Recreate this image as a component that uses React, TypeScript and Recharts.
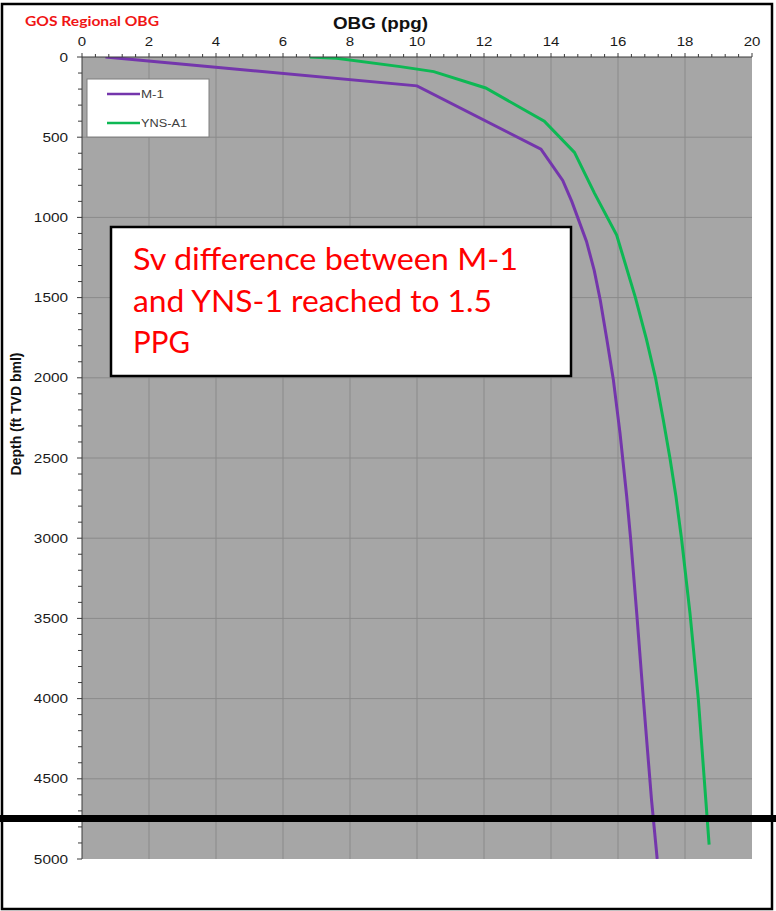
import React from 'react';
import { LineChart, Line, XAxis, YAxis, CartesianGrid, ReferenceLine } from 'recharts';

// ---- data ----
const m1Depth = [0, 180, 575, 770, 900, 1150, 1330, 1515, 1765, 2010, 2345, 2740, 3010, 3470, 4010, 4630, 5000];
const m1Obg = [0.7, 10.0, 13.7, 14.35, 14.62, 15.06, 15.29, 15.47, 15.67, 15.86, 16.06, 16.26, 16.38, 16.56, 16.76, 17.0, 17.17];

const ynsDepth = [0, 8, 60, 91, 193, 400, 595, 850, 1110, 1500, 1760, 2000, 2260, 2500, 2740, 3010, 3470, 4010, 4630, 4910];
const ynsObg = [6.8, 7.6, 9.5, 10.5, 12.05, 13.8, 14.7, 15.3, 15.96, 16.52, 16.85, 17.12, 17.35, 17.55, 17.73, 17.9, 18.15, 18.4, 18.62, 18.72];

const seriesNames = ['M-1', 'YNS-A1'];
const seriesColors = ['#7436ac', '#0db854'];

const xDomain = [0, 20];
const yDomain = [0, 5000];
const xTicks = Array.from({ length: 51 }, (_, i) => Math.round(i * 4) / 10);
const yTicks = Array.from({ length: 51 }, (_, i) => i * 100);
const xGrid = [2, 4, 6, 8, 10, 12, 14, 16, 18];
const yGrid = [500, 1000, 1500, 2000, 2500, 3000, 3500, 4000, 4500];

const chartTitle = 'GOS Regional OBG';
const xTitle = 'OBG (ppg)';
const yTitle = 'Depth (ft TVD bml)';
const noteLines = ['Sv difference between M-1', 'and YNS-1 reached to 1.5', 'PPG'];

const m1Data = m1Depth.map((d, i) => ({ depth: d, obg: m1Obg[i] }));
const ynsData = ynsDepth.map((d, i) => ({ depth: d, obg: ynsObg[i] }));

const TICK_FONT = '"Liberation Sans", Arial, sans-serif';

const XTick = (props: any) => {
  const { x, y, payload } = props;
  const v = payload.value as number;
  const major = Math.abs(v / 2 - Math.round(v / 2)) < 1e-6;
  return (
    <g>
      <line x1={x} x2={x} y1={y} y2={y - (major ? 4 : 3)} stroke="#3a3a3a" strokeWidth={1} />
      {major && (
        <text
          x={0}
          y={0}
          transform={`translate(${x},${y - 11}) scale(1.25,1)`}
          textAnchor="middle"
          fontSize={12}
          fontFamily={TICK_FONT}
          fill="#1a1a1a"
        >
          {Math.round(v)}
        </text>
      )}
    </g>
  );
};

const YTick = (props: any) => {
  const { x, y, payload } = props;
  const v = payload.value as number;
  const major = v % 500 === 0;
  return (
    <g>
      <line x1={x} x2={x - (major ? 5 : 4)} y1={y} y2={y} stroke="#3a3a3a" strokeWidth={1} />
      {major && (
        <text
          x={0}
          y={0}
          transform={`translate(${x - 14},${y + 4.5}) scale(1.28,1)`}
          textAnchor="end"
          fontSize={12}
          fontFamily={TICK_FONT}
          fill="#1a1a1a"
        >
          {v}
        </text>
      )}
    </g>
  );
};

export default function App() {
  return (
    <div style={{ position: 'absolute', left: 0, top: 0, width: 776, height: 911, background: '#ffffff' }}>
      <LineChart width={776} height={911} margin={{ top: 37, right: 24, bottom: 52, left: 22 }}>
        <CartesianGrid horizontal={false} vertical={false} fill="#a6a6a6" fillOpacity={1} stroke="none" />
        {xGrid.map((g) => (
          <ReferenceLine key={'gx' + g} x={g} stroke="#8a8a8a" strokeWidth={1} />
        ))}
        {yGrid.map((g) => (
          <ReferenceLine key={'gy' + g} y={g} stroke="#8a8a8a" strokeWidth={1} />
        ))}
        <XAxis
          type="number"
          dataKey="obg"
          orientation="top"
          domain={xDomain}
          ticks={xTicks}
          interval={0}
          height={20}
          tickSize={0}
          tickMargin={0}
          tickLine={false}
          tick={<XTick />}
          axisLine={{ stroke: '#3a3a3a', strokeWidth: 1 }}
          allowDataOverflow
        />
        <YAxis
          type="number"
          domain={yDomain}
          reversed
          ticks={yTicks}
          interval={0}
          width={60}
          tickSize={0}
          tickMargin={0}
          tickLine={false}
          tick={<YTick />}
          axisLine={{ stroke: '#3a3a3a', strokeWidth: 1 }}
          allowDataOverflow
        />
        <Line
          data={m1Data}
          dataKey="depth"
          name={seriesNames[0]}
          stroke={seriesColors[0]}
          strokeWidth={3}
          dot={false}
          activeDot={false}
          type="linear"
          isAnimationActive={false}
        />
        <Line
          data={ynsData}
          dataKey="depth"
          name={seriesNames[1]}
          stroke={seriesColors[1]}
          strokeWidth={3}
          dot={false}
          activeDot={false}
          type="linear"
          isAnimationActive={false}
        />
      </LineChart>
      <svg
        width={776}
        height={911}
        style={{ position: 'absolute', left: 0, top: 0, pointerEvents: 'none' }}
      >
        {/* outer frame */}
        <rect x={2} y={4} width={770} height={905} fill="none" stroke="#000" strokeWidth={2.5} />
        {/* titles */}
        <text x={25} y={26} fontFamily="Lato, sans-serif" fontWeight={700} fontSize={13.5} fill="#f01414" textLength={134} lengthAdjust="spacingAndGlyphs">
          {chartTitle}
        </text>
        <text x={333} y={29} fontFamily={TICK_FONT} fontWeight={700} fontSize={16} fill="#111" textLength={95} lengthAdjust="spacingAndGlyphs">
          {xTitle}
        </text>
        <text
          x={0}
          y={0}
          transform="translate(16,414) rotate(-90)"
          textAnchor="middle"
          dominantBaseline="central"
          fontFamily={TICK_FONT}
          fontWeight={700}
          fontSize={14}
          fill="#111"
        >
          {yTitle}
        </text>
        {/* legend */}
        <rect x={87} y={79} width={122} height={58} fill="#ffffff" stroke="#7f7f7f" strokeWidth={1} />
        <line x1={107} x2={140} y1={94} y2={94} stroke={seriesColors[0]} strokeWidth={2.5} />
        <text x={141} y={97.5} fontFamily={TICK_FONT} fontSize={10} fill="#404040" textLength={23} lengthAdjust="spacingAndGlyphs">
          {seriesNames[0]}
        </text>
        <line x1={107} x2={140} y1={123} y2={123} stroke={seriesColors[1]} strokeWidth={2.5} />
        <text x={141} y={126.5} fontFamily={TICK_FONT} fontSize={10} fill="#404040" textLength={46} lengthAdjust="spacingAndGlyphs">
          {seriesNames[1]}
        </text>
        {/* annotation box */}
        <rect x={111} y={227} width={460} height={149} fill="#ffffff" stroke="#000" strokeWidth={2.5} />
        <text x={133} y={270} fontFamily="Lato, sans-serif" fontSize={30} fill="#ff0000" textLength={385} lengthAdjust="spacingAndGlyphs">
          {noteLines[0]}
        </text>
        <text x={133} y={311.5} fontFamily="Lato, sans-serif" fontSize={30} fill="#ff0000" textLength={359} lengthAdjust="spacingAndGlyphs">
          {noteLines[1]}
        </text>
        <text x={133} y={353} fontFamily="Lato, sans-serif" fontSize={30} fill="#ff0000" textLength={57} lengthAdjust="spacingAndGlyphs">
          {noteLines[2]}
        </text>
        {/* thick black band */}
        <rect x={0} y={815} width={776} height={7} fill="#000" />
      </svg>
    </div>
  );
}
